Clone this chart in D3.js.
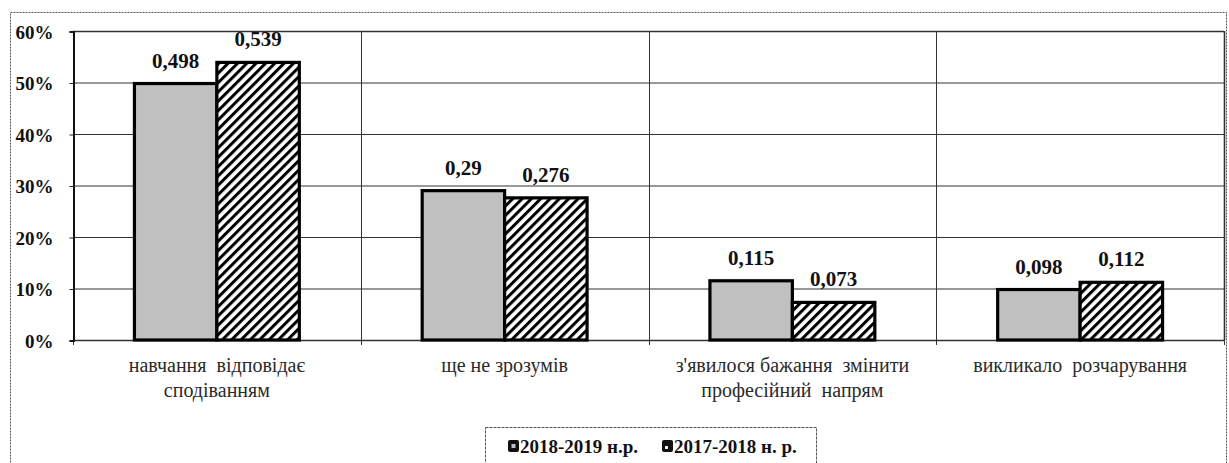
<!DOCTYPE html>
<html><head><meta charset="utf-8">
<script src="https://cdn.jsdelivr.net/npm/d3@7"></script>
<style>html,body{margin:0;padding:0;background:#fff;}svg{display:block;}</style>
</head><body>
<svg id="c" width="1229" height="463"></svg>
<script>
const categories = [
  ["навчання  відповідає", "сподіванням"],
  ["ще не зрозумів"],
  ["з'явилося бажання  змінити", "професійний  напрям"],
  ["викликало  розчарування"]
];
const seriesNames = ["2018-2019 н.р.", "2017-2018 н. р."];
const values2018_2019 = [0.498, 0.29, 0.115, 0.098];
const values2017_2018 = [0.539, 0.276, 0.073, 0.112];
const valueLabels2018_2019 = ["0,498", "0,29", "0,115", "0,098"];
const valueLabels2017_2018 = ["0,539", "0,276", "0,073", "0,112"];
const yTicks = [0, 0.1, 0.2, 0.3, 0.4, 0.5, 0.6];

const svg = d3.select("#c");
const serif = "Liberation Serif";
const m = {left: 73, right: 1224, top: 31, bottom: 340};

const defs = svg.append("defs");
const pat = defs.append("pattern").attr("id","hatch").attr("patternUnits","userSpaceOnUse")
  .attr("width",6.6).attr("height",6.6).attr("patternTransform","rotate(45)");
pat.append("rect").attr("width",6.6).attr("height",6.6).attr("fill","#fff");
pat.append("rect").attr("width",3).attr("height",6.6).attr("fill","#000");

svg.append("rect").attr("x",10.5).attr("y",12.5).attr("width",1216).attr("height",470)
  .attr("fill","none").attr("stroke","#555").attr("stroke-width",1).attr("stroke-dasharray","2,1");

const catIdx = categories.map((d,i)=>i);
const x = d3.scaleBand().domain(catIdx).range([m.left, m.right]).padding(0);
const xs = d3.scaleBand().domain([0,1]).range([0, x.bandwidth()]).paddingInner(0).paddingOuter(0.745);
const y = d3.scaleLinear().domain([0,0.6]).range([m.bottom, m.top]);

const g = svg.append("g");
g.selectAll("line.h").data(yTicks).enter().append("line")
  .attr("x1",m.left).attr("x2",m.right).attr("y1",d=>y(d)+0.5).attr("y2",d=>y(d)+0.5)
  .attr("stroke","#333").attr("stroke-width",d=>(d===0||d===0.6)?1.6:1);
const bounds = catIdx.map(i=>x(i)).concat([m.right]);
g.selectAll("line.v").data(bounds).enter().append("line")
  .attr("x1",d=>Math.round(d)+0.5).attr("x2",d=>Math.round(d)+0.5).attr("y1",m.top).attr("y2",m.bottom)
  .attr("stroke","#333").attr("stroke-width",(d,i)=>i===4?1.6:1);
g.selectAll("line.xt").data(bounds).enter().append("line")
  .attr("x1",d=>Math.round(d)+0.5).attr("x2",d=>Math.round(d)+0.5).attr("y1",m.bottom).attr("y2",m.bottom+5)
  .attr("stroke","#333");
const yAxis = d3.axisLeft(y).tickValues(yTicks).tickFormat(d=>Math.round(d*100)+"%").tickSize(4).tickPadding(16);
const ya = svg.append("g").attr("transform",`translate(${m.left+0.5},0.5)`).call(yAxis);
ya.select(".domain").attr("stroke","#111").attr("stroke-width",2);
ya.selectAll(".tick line").attr("stroke","#222");
ya.selectAll("text").attr("font-family",serif).attr("font-size",19).attr("font-weight","bold").attr("fill","#111").attr("dy","0.36em");

const seriesVals = [values2018_2019, values2017_2018];
const seriesLabels = [valueLabels2018_2019, valueLabels2017_2018];
const fills = ["#c0c0c0","url(#hatch)"];
seriesVals.forEach((vals, s)=>{
  svg.append("g").selectAll("rect").data(vals).enter().append("rect")
    .attr("x",(d,i)=>x(i)+xs(s)).attr("width",xs.bandwidth())
    .attr("y",d=>y(d)).attr("height",d=>y(0)-y(d))
    .attr("fill",fills[s]).attr("stroke","#000").attr("stroke-width",3.2).attr("stroke-linejoin","miter");
  svg.append("g").selectAll("text").data(vals).enter().append("text")
    .attr("x",(d,i)=>x(i)+xs(s)+xs.bandwidth()/2).attr("y",d=>y(d)-16)
    .attr("text-anchor","middle").attr("font-family",serif).attr("font-size",21).attr("font-weight","bold").attr("fill","#111")
    .text((d,i)=>seriesLabels[s][i]);
});

catIdx.forEach(i=>{
  const t = svg.append("text").attr("text-anchor","middle").attr("font-family",serif).attr("font-size",20).attr("fill","#2a2a2a");
  categories[i].forEach((line,k)=>{
    t.append("tspan").attr("x",x(i)+x.bandwidth()/2).attr("y",m.bottom+32+k*25).attr("xml:space","preserve").text(line);
  });
});

const lg = svg.append("g");
lg.append("rect").attr("x",485.5).attr("y",427.5).attr("width",331).attr("height",50)
  .attr("fill","#fff").attr("stroke","#555").attr("stroke-width",1).attr("stroke-dasharray","3,1");
const legX = [508, 662];
seriesNames.forEach((n,s)=>{
  lg.append("rect").attr("x",legX[s]).attr("y",440).attr("width",11).attr("height",12).attr("rx",2)
    .attr("fill","#111");
  if (s===0) lg.append("rect").attr("x",legX[s]+3.5).attr("y",444).attr("width",4).attr("height",4).attr("fill","#c0c0c0");
  else lg.append("rect").attr("x",legX[s]+3).attr("y",446).attr("width",3).attr("height",3).attr("fill","#eee");
  lg.append("text").attr("x",legX[s]+12).attr("y",453).attr("font-family",serif).attr("font-size",19)
    .attr("font-weight","bold").attr("fill","#111").text(n);
});
</script>
</body></html>
